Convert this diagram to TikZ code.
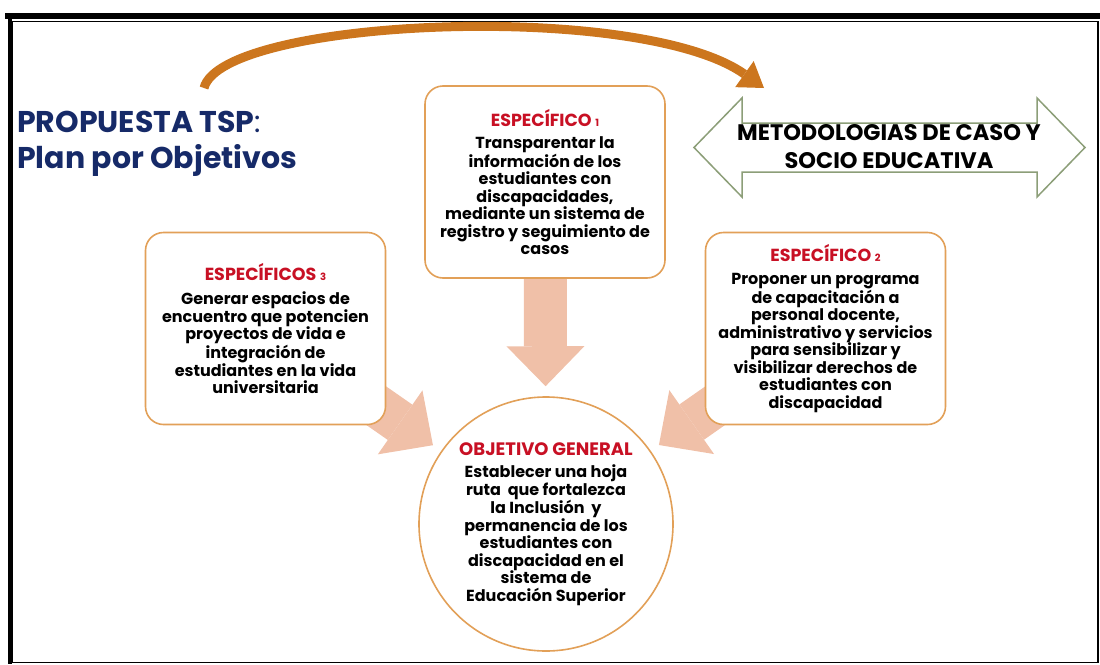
\documentclass[tikz,border=0pt]{standalone}
\usepackage{fontspec}
\setmainfont{Poppins}
\usetikzlibrary{arrows.meta}
\definecolor{tspnavy}{RGB}{22,42,104}
\definecolor{tspred}{RGB}{200,16,36}
\definecolor{boxline}{RGB}{226,160,88}
\definecolor{salmon}{RGB}{240,192,168}
\definecolor{arcbrown}{RGB}{204,118,30}
\definecolor{sage}{RGB}{140,158,120}
\pgfdeclarelayer{background}
\pgfsetlayers{background,main}

\begin{document}
\begin{tikzpicture}[x = 1pt, y = -1pt,
    objbox/.style = {draw = boxline, line width = 1.6pt, fill = white, rounded corners = 18pt,
        minimum width = 240pt, minimum height = 192pt, align = center, inner sep = 2pt,
        font = \bfseries\fontsize{16}{17.5}\selectfont},
    goalcircle/.style = {circle, draw = boxline, line width = 1.6pt, fill = white, inner sep = 0pt,
        minimum size = 254pt, align = center, font = \bfseries\fontsize{16}{17.5}\selectfont},
    blockarrow/.style = {salmon, line width = 43pt, -{Triangle[length = 40pt, width = 78pt, line width = 0pt]}}]
    \useasboundingbox (0,0) rectangle (1100,664);
    \fill (5,13) rectangle (1100,19);
    \fill (8,13) rectangle (12,664);
    \draw [line width = 1.2pt] (12,21.5) rectangle (1098,662.5);
    \node [anchor = north west, inner sep = 0pt, align = left, text = tspnavy,
        font = \bfseries\fontsize{30}{36}\selectfont] (title) at (17,111)
        {PROPUESTA TSP\textmd{:}\\Plan por Objetivos};
    \coordinate (arcstart) at (204,88);
    \coordinate (arcend) at (764,88);
    \draw [arcbrown, line width = 9pt, -{Triangle[length = 24pt, width = 32pt, line width = 0pt]}]
        (arcstart) .. controls (222,18) and (640,0) .. (arcend);
    \draw [sage, line width = 1.5pt, fill = white] (694,147.5) -- (742,98) -- (742,123) -- (1037,123)
        -- (1037,98) -- (1085,147.5) -- (1037,197) -- (1037,172) -- (742,172) -- (742,197) -- cycle;
    \node [align = center, font = \bfseries\fontsize{22.5}{28}\selectfont] (metodo) at (889,147)
        {METODOLOGIAS DE CASO Y\\SOCIO EDUCATIVA};
    \node [objbox] (e1) at (545,182)
        {{\color{tspred}\fontsize{17.5}{19}\selectfont ESPECÍFICO {\fontsize{10}{10}\selectfont 1}}\\[5pt]
        Transparentar la\\información de los\\estudiantes con\\discapacidades,\\mediante un sistema de\\registro y seguimiento de\\casos};
    \node [objbox] (e3) at (265.5,328.5)
        {{\color{tspred}\fontsize{17.5}{19}\selectfont ESPECÍFICOS {\fontsize{10}{10}\selectfont 3}}\\[7pt]
        Generar espacios de\\encuentro que potencien\\proyectos de vida e\\integración de\\estudiantes en la vida\\universitaria};
    \node [objbox] (e2) at (825.5,328.5)
        {{\color{tspred}\fontsize{17.5}{19}\selectfont ESPECÍFICO {\fontsize{10}{10}\selectfont 2}}\\[5pt]
        Proponer un programa\\de capacitación a\\personal docente,\\administrativo y servicios\\para sensibilizar y\\visibilizar derechos de\\estudiantes con\\discapacidad};
    \node [goalcircle] (goal) at (546,524)
        {{\color{tspred}\fontsize{18}{20}\selectfont OBJETIVO GENERAL}\\[5pt]
        Establecer una hoja\\ruta \ que fortalezca\\la Inclusión \ y\\permanencia de los\\estudiantes con\\discapacidad en el\\sistema de\\Educación Superior};
    \begin{pgfonlayer}{background}
        \draw [blockarrow, shorten > = 10pt] (e1) -- (goal);
        \draw [blockarrow, shorten > = 10pt] (e3.center) -- (goal);
        \draw [blockarrow, shorten > = 10pt] (e2.center) -- (goal);
    \end{pgfonlayer}
\end{tikzpicture}
\end{document}
